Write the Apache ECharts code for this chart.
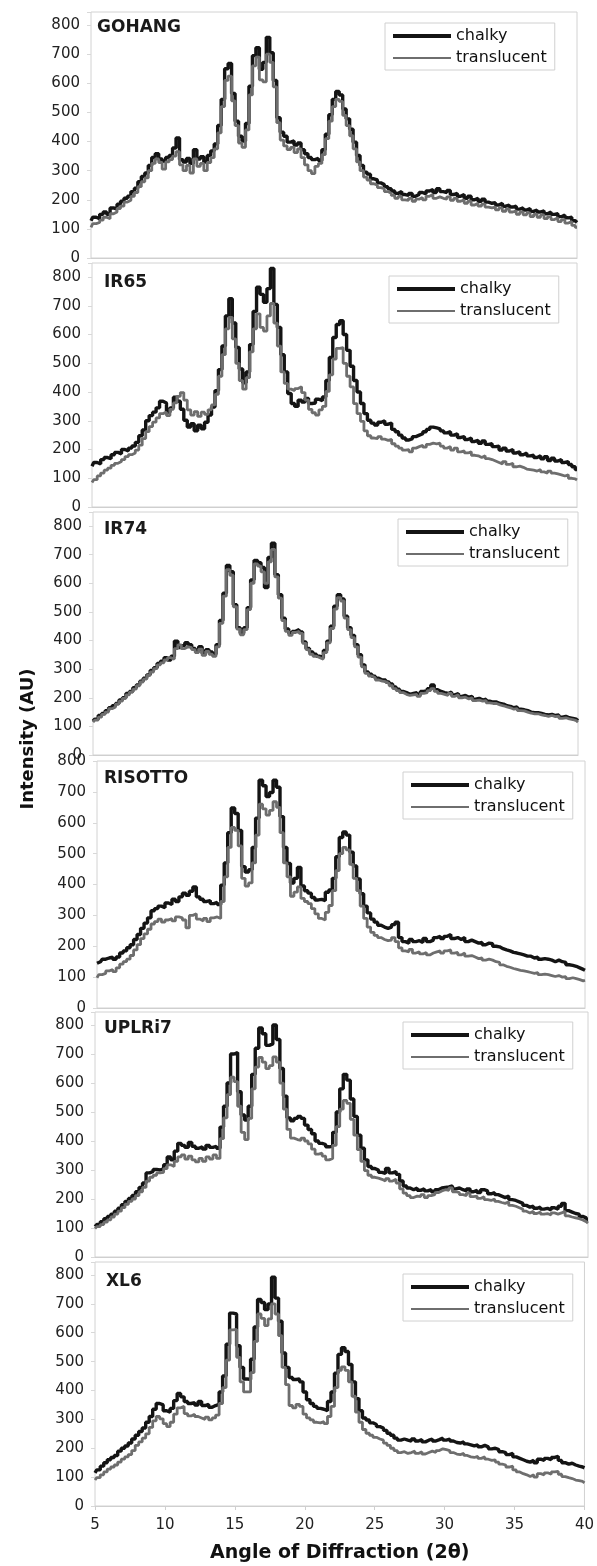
<!DOCTYPE html>
<html>
<head>
<meta charset="utf-8">
<script src="https://cdn.jsdelivr.net/npm/echarts@6/dist/echarts.min.js"></script>
<style>
html,body{margin:0;padding:0;background:#fff;}
#chart{width:597px;height:1566px;}
</style>
</head>
<body>
<div id="chart"></div>
<script>
// ---- DATA ----
const angles = [
 5,5.25,5.5,5.75, 6,6.25,6.5,6.75, 7,7.25,7.5,7.75, 8,8.25,8.5,8.75, 9,9.25,9.5,9.75,
 10,10.25,10.5,10.75, 11,11.25,11.5,11.75, 12,12.25,12.5,12.75, 13,13.25,13.5,13.75, 14,14.25,14.5,14.75,
 15,15.25,15.5,15.75, 16,16.25,16.5,16.75, 17,17.25,17.5,17.75, 18,18.25,18.5,18.75, 19,19.25,19.5,19.75,
 20,20.25,20.5,20.75, 21,21.25,21.5,21.75, 22,22.25,22.5,22.75, 23,23.25,23.5,23.75, 24,24.25,24.5,24.75,
 25,25.25,25.5,25.75, 26,26.25,26.5,26.75, 27,27.25,27.5,27.75, 28,28.25,28.5,28.75, 29,29.25,29.5,29.75,
 30,30.25,30.5,30.75, 31,31.25,31.5,31.75, 32,32.25,32.5,32.75, 33,33.25,33.5,33.75, 34,34.25,34.5,34.75,
 35,35.25,35.5,35.75, 36,36.25,36.5,36.75, 37,37.25,37.5,37.75, 38,38.25,38.5,38.75, 39,39.25,39.5,39.75,
 40
];
const xTicks = [5,10,15,20,25,30,35,40];
const yTicks = [0,100,200,300,400,500,600,700,800];
const varieties = ['GOHANG','IR65','IR74','RISOTTO','UPLRi7','XL6'];
const seriesNames = ['chalky','translucent'];

const gohangChalky = [
 128,140,135,150, 158,150,172,168, 185,195,205,212, 228,240,262,280, 292,318,345,358,
 340,332,345,352, 378,412,338,330, 342,325,372,340, 348,330,352,368, 392,455,545,650,
 668,565,470,418, 402,462,590,695, 722,648,672,758, 705,610,482,432, 418,398,402,388,
 395,372,358,345, 338,342,335,372, 425,492,545,572, 560,512,478,442, 398,352,318,295,
 288,272,268,258, 252,245,238,230, 222,228,218,215, 222,212,218,225, 220,230,235,225,
 238,228,225,232, 218,222,212,218, 205,212,200,205, 195,202,192,188, 190,182,188,178,
 182,175,178,168, 172,165,170,160, 165,158,162,152, 158,150,152,142, 148,138,140,128,
 122
];
const gohangTranslucent = [
 105,118,122,130, 140,135,152,158, 170,178,192,198, 212,225,245,262, 275,300,325,340,
 328,305,330,338, 350,365,320,300, 318,292,340,315, 325,300,328,345, 375,430,520,610,
 625,540,455,395, 380,440,560,660, 690,612,605,700, 672,588,465,405, 385,372,380,362,
 375,345,320,300, 290,315,325,355, 410,470,520,545, 538,490,455,420, 375,330,300,278,
 268,255,250,242, 238,228,222,215, 205,212,200,198, 205,195,202,208, 200,212,218,205,
 210,205,202,210, 198,205,195,200, 188,195,182,188, 178,185,175,172, 175,165,172,160,
 168,158,162,150, 158,148,155,142, 150,140,148,135, 142,132,138,125, 132,120,125,112,
 105
];
const ir65Chalky = [
 142,155,150,165, 172,168,182,190, 185,200,195,205, 212,225,248,268, 300,318,330,345,
 368,362,330,345, 382,368,340,302, 278,290,265,285, 272,295,320,348, 405,478,560,665,
 725,640,555,480, 432,470,565,680, 765,740,712,760, 830,705,625,530, 470,395,360,350,
 372,365,378,360, 362,375,370,383, 440,520,590,635, 648,600,545,490, 440,400,360,325,
 302,292,285,295, 300,288,292,270, 262,250,240,233, 238,245,250,255, 262,270,278,275,
 272,265,258,262, 250,255,242,245, 235,240,228,232, 222,230,218,220, 210,212,198,205,
 195,200,188,192, 182,188,178,180, 172,178,168,175, 162,170,160,165, 155,158,148,140,
 130
];
const ir65Translucent = [
 85,95,108,118, 128,135,145,152, 158,165,175,182, 188,198,215,238, 262,280,295,310,
 325,330,318,340, 362,385,398,372, 338,320,332,315, 330,322,338,355, 392,455,530,620,
 660,585,500,440, 410,450,540,620, 672,625,612,665, 708,640,560,470, 430,410,405,412,
 418,398,372,340, 328,320,338,350, 402,460,515,552, 555,500,455,418, 360,325,298,265,
 248,240,238,245, 236,232,235,220, 212,205,198,200, 192,205,210,215, 208,218,222,220,
 222,212,205,210, 198,205,192,195, 188,192,180,178, 172,178,168,165, 160,155,150,158,
 148,152,140,142, 138,132,130,128, 125,130,122,118, 125,118,115,112, 108,112,100,98,
 94
];
const ir74Chalky = [
 118,125,138,145, 155,165,172,180, 192,200,215,222, 235,245,258,268, 280,295,305,320,
 328,340,332,345, 398,375,382,392, 385,372,365,378, 355,368,360,352, 385,470,565,662,
 640,525,445,425, 445,515,612,680, 672,655,585,690, 740,630,560,478, 440,425,432,438,
 430,395,372,360, 352,345,340,365, 398,450,520,560, 545,485,445,418, 385,350,315,290,
 282,275,268,262, 262,255,248,238, 230,222,218,212, 215,218,210,222, 225,232,245,228,
 222,218,215,220, 210,215,205,208, 202,205,195,198, 192,195,188,185, 185,180,178,172,
 170,165,168,160, 158,155,150,148, 148,145,142,140, 142,138,140,132, 135,130,128,125,
 120
];
const ir74Translucent = [
 115,122,132,142, 150,162,168,178, 188,198,210,220, 230,242,255,265, 278,290,302,315,
 322,332,340,335, 372,385,372,378, 375,368,358,370, 348,362,352,345, 378,460,555,648,
 628,518,440,420, 438,508,600,668, 660,640,600,675, 718,622,548,470, 432,418,428,432,
 425,390,368,352, 345,340,335,358, 392,442,510,550, 538,478,438,410, 378,342,308,285,
 276,270,262,258, 256,250,242,232, 225,218,212,208, 210,212,205,215, 218,225,232,222,
 215,212,208,215, 205,210,200,202, 196,200,190,192, 188,190,182,180, 180,175,172,168,
 165,160,162,155, 154,150,146,144, 144,140,138,135, 138,134,136,128, 130,126,124,120,
 115
];
const risottoChalky = [
 145,150,158,162, 165,158,165,178, 185,195,205,222, 238,258,275,292, 315,322,330,325,
 340,335,352,345, 360,372,365,378, 392,360,352,345, 348,338,342,335, 398,470,568,648,
 630,575,458,440, 448,520,615,738, 720,685,698,738, 715,620,520,468, 405,420,455,395,
 380,372,358,350, 352,348,375,382, 420,490,552,570, 560,505,460,418, 370,330,308,288,
 278,268,262,258, 262,270,278,228, 215,210,222,215, 218,212,225,215, 220,228,232,225,
 232,238,225,228, 222,228,215,220, 215,210,212,205, 210,208,200,198, 192,188,185,180,
 178,175,172,168, 168,162,165,158, 160,158,155,150, 155,150,148,140, 138,135,130,125,
 122
];
const risottoTranslucent = [
 98,108,112,120, 125,118,130,142, 150,158,170,188, 205,225,240,255, 272,280,288,278,
 285,290,282,295, 292,285,260,300, 305,288,282,290, 280,292,295,290, 345,425,520,585,
 575,525,420,395, 405,470,560,660, 645,625,640,668, 650,568,470,425, 362,375,392,355,
 345,338,322,305, 290,285,310,332, 380,445,500,520, 512,465,420,380, 330,290,262,245,
 235,228,222,218, 220,228,215,195, 185,182,190,178, 182,175,180,172, 178,182,185,178,
 185,188,178,180, 172,178,168,170, 165,160,162,155, 158,155,150,148, 140,135,132,128,
 125,122,120,118, 115,112,115,108, 110,108,105,102, 105,100,102,95, 98,95,92,88,
 90
];
const uplri7Chalky = [
 105,112,122,132, 140,148,158,168, 180,192,202,212, 225,240,255,290, 295,302,300,305,
 318,345,335,365, 392,385,378,395, 382,375,380,372, 385,378,382,375, 448,520,600,700,
 705,570,490,472, 520,630,720,790, 770,730,735,800, 750,650,555,480, 470,478,485,478,
 455,440,425,400, 392,388,380,382, 430,500,580,630, 610,545,485,420, 375,335,312,305,
 300,292,288,305, 290,295,285,262, 245,238,232,238, 230,235,228,232, 225,232,238,240,
 242,245,235,238, 232,228,235,225, 230,222,232,228, 218,222,215,210, 205,210,198,195,
 190,185,178,172, 175,168,172,165, 168,162,170,165, 175,185,160,155, 150,148,140,135,
 128
];
const uplri7Translucent = [
 98,105,112,120, 128,138,148,158, 170,182,192,200, 212,225,240,262, 275,282,290,292,
 305,318,312,330, 345,352,338,348, 335,328,340,330, 345,338,352,340, 408,480,560,620,
 605,520,430,405, 478,580,655,688, 672,650,660,690, 672,600,510,440, 410,405,402,410,
 400,390,372,355, 358,348,335,340, 385,450,510,540, 530,475,420,370, 330,298,282,275,
 272,268,262,270, 262,268,255,235, 220,212,205,210, 208,215,205,212, 215,222,228,232,
 230,238,225,222, 215,212,220,208, 210,202,208,198, 195,200,192,188, 185,190,178,175,
 170,165,158,152, 158,150,155,148, 150,145,152,148, 152,158,142,138, 135,132,128,122,
 117
];
const xl6Chalky = [
 115,125,138,150, 160,168,175,190, 200,208,218,232, 245,258,270,290, 310,335,355,350,
 330,325,338,365, 390,378,362,355, 358,350,362,348, 352,342,348,352, 395,450,560,668,
 665,555,480,440, 438,508,620,715, 705,680,700,792, 720,640,530,480, 445,438,440,430,
 395,368,355,345, 338,335,330,362, 395,460,525,548, 535,490,430,372, 330,305,298,288,
 282,275,270,262, 252,245,235,228, 232,228,225,232, 225,230,222,228, 232,225,230,235,
 228,232,225,220, 218,222,215,212, 208,212,205,210, 205,198,200,195, 188,185,178,182,
 170,165,160,155, 152,158,150,162, 158,165,160,168, 172,158,150,145, 148,142,138,135,
 132
];
const xl6Translucent = [
 90,98,108,118, 128,135,142,152, 162,170,178,192, 210,222,235,250, 272,295,310,302,
 285,275,290,318, 340,345,320,312, 318,310,305,300, 308,298,305,315, 355,410,505,610,
 612,515,430,395, 395,462,570,665, 650,625,648,700, 665,590,480,420, 348,340,352,345,
 318,305,298,290, 288,292,285,310, 345,410,470,482, 470,430,380,325, 290,265,252,245,
 238,232,228,218, 210,200,192,185, 188,182,185,190, 182,188,180,185, 190,185,192,198,
 195,192,185,180, 178,182,175,170, 168,172,165,170, 162,158,160,152, 145,142,135,138,
 125,118,112,108, 102,108,100,112, 108,115,110,118, 120,110,102,98, 95,90,88,85,
 80
];

const chalkySets = [gohangChalky, ir65Chalky, ir74Chalky, risottoChalky, uplri7Chalky, xl6Chalky];
const translucentSets = [gohangTranslucent, ir65Translucent, ir74Translucent, risottoTranslucent, uplri7Translucent, xl6Translucent];

// ---- LAYOUT (pixels) ----
const layout = [
  {left:91, right:20, top:12,   height:246, max:845, legend:[385,23],   label:[97,19]},
  {left:92, right:20, top:263,  height:244, max:849, legend:[389,276],  label:[104,274]},
  {left:93, right:19, top:512,  height:243, max:849, legend:[398,519],  label:[104,521]},
  {left:97, right:12, top:761,  height:247, max:800, legend:[403,772],  label:[104,770]},
  {left:95, right:9,  top:1012, height:245, max:845, legend:[403,1022], label:[104,1020]},
  {left:95, right:12, top:1262, height:244, max:845, legend:[403,1274], label:[106,1273]}
];

const FONT = 'DejaVu Sans';
const BLACK = '#141414';
const GRAY = '#6e6e6e';
// legend sample icons: a thick bar (chalky) and a thin bar (translucent) inside a 58x14 box
const ICON_THICK = 'path://M0,0 L0.01,0 L0,0.01 Z M0,5 L58,5 L58,9 L0,9 Z M58,14 L57.99,14 L58,13.99 Z';
const ICON_THIN  = 'path://M0,0 L0.01,0 L0,0.01 Z M0,6 L58,6 L58,8 L0,8 Z M58,14 L57.99,14 L58,13.99 Z';

const grid = [], xAxis = [], yAxis = [], series = [], title = [], legend = [];
layout.forEach((p, i) => {
  const last = i === layout.length - 1;
  grid.push({left:p.left, right:p.right, top:p.top, height:p.height, show:true,
    borderColor:'#d2d2d2', borderWidth:1, backgroundColor:'transparent'});
  xAxis.push({
    gridIndex:i, type:'value', min:xTicks[0], max:xTicks[xTicks.length-1], interval:5,
    axisLine:{show:true, lineStyle:{color:'#cfcfcf', width:1}},
    axisTick:{show:last, length:4, lineStyle:{color:'#cfcfcf'}},
    axisLabel:{show:last, margin:12, fontSize:15, color:'#222', fontFamily:FONT},
    splitLine:{show:false},
    name: last ? 'Angle of Diffraction (2θ)' : '',
    nameLocation:'middle', nameGap:38,
    nameTextStyle:{fontSize:19, fontWeight:'bold', color:'#111', fontFamily:FONT}
  });
  yAxis.push({
    gridIndex:i, type:'value', min:yTicks[0], max:p.max, interval:100,
    axisLine:{show:false},
    axisTick:{show:true, length:4, lineStyle:{color:'#d8d8d8'}},
    axisLabel:{margin:11, fontSize:15, color:'#222', fontFamily:FONT,
      formatter: v => (yTicks.indexOf(v) >= 0 ? String(v) : '')},
    splitLine:{show:false}
  });
  series.push({
    name:seriesNames[0], type:'line', xAxisIndex:i, yAxisIndex:i, symbol:'none', showSymbol:false,
    step:'middle',
    data: angles.map((a, k) => [a, chalkySets[i][k]]),
    lineStyle:{color:BLACK, width:3.4}, itemStyle:{color:BLACK}, z:2, silent:true
  });
  series.push({
    name:seriesNames[1], type:'line', xAxisIndex:i, yAxisIndex:i, symbol:'none', showSymbol:false,
    step:'middle',
    data: angles.map((a, k) => [a, translucentSets[i][k]]),
    lineStyle:{color:GRAY, width:2.8}, itemStyle:{color:GRAY}, z:3, silent:true
  });
  title.push({text:varieties[i], left:p.label[0], top:p.label[1], padding:0,
    textStyle:{fontSize:17, fontWeight:'bold', color:'#1a1a1a', fontFamily:FONT}});
  legend.push({
    show:true,
    left:p.legend[0], top:p.legend[1], orient:'vertical', selectedMode:false,
    padding:[5,8,4,8], itemGap:6, itemWidth:58, itemHeight:14,
    borderColor:'#d0d0d0', borderWidth:1, backgroundColor:'#fff',
    textStyle:{fontSize:16, color:'#111', fontFamily:FONT},
    data:[
      {name:seriesNames[0], icon:ICON_THICK, itemStyle:{color:BLACK, borderWidth:0}},
      {name:seriesNames[1], icon:ICON_THIN, itemStyle:{color:GRAY, borderWidth:0}}
    ]
  });
});

const chart = echarts.init(document.getElementById('chart'), null, {renderer:'canvas'});
chart.setOption({
  animation:false,
  backgroundColor:'#fff',
  title:title, legend:legend, grid:grid, xAxis:xAxis, yAxis:yAxis, series:series,
  graphic:[{
    type:'text', x:28, y:739, rotation:Math.PI/2,
    style:{text:'Intensity (AU)', font:'bold 18px "DejaVu Sans"', fill:'#111',
      align:'center', verticalAlign:'middle'}
  }]
});
</script>
</body>
</html>
